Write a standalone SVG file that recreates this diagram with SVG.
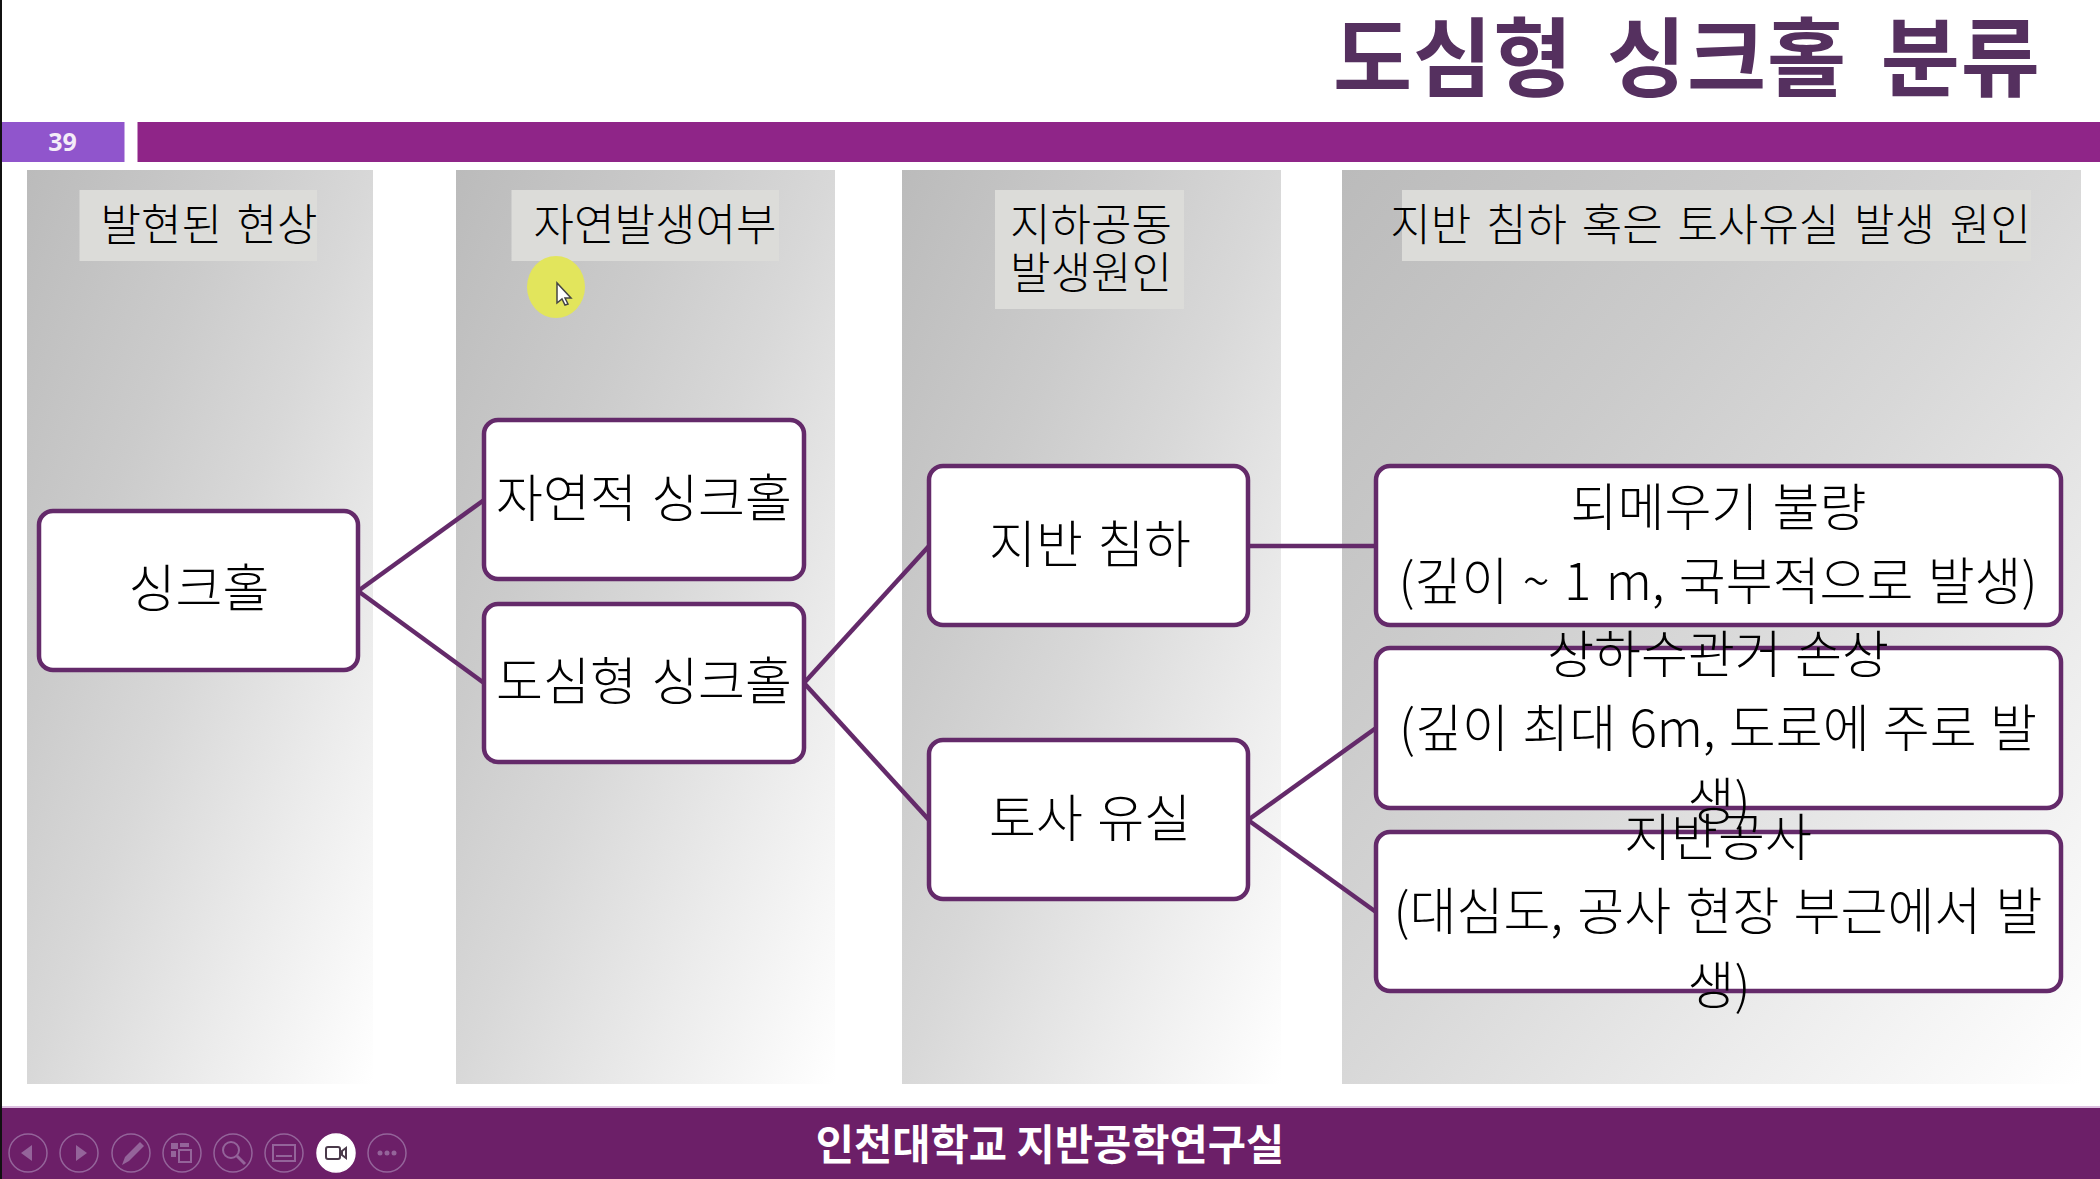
<svg xmlns="http://www.w3.org/2000/svg" width="2100" height="1179" viewBox="0 0 2100 1179">
<style>
text{font-family:"Noto Sans CJK KR","Noto Sans",sans-serif;fill:#000;text-anchor:middle;font-weight:300}
.h{font-size:44px;word-spacing:5px}
.n{font-size:51px;word-spacing:3px}
.node rect{fill:#fff;stroke:#642a6a;stroke-width:4.5}
.panel{fill:url(#pg)}
.lab{fill:#dcdcd9}
#connectors line{stroke:#642a6a;stroke-width:4.5;fill:none}
.tb circle{fill:none;stroke:#94649a;stroke-width:1.5}
.tb .ic{fill:#94649a;stroke:none}
.tb .il{fill:none;stroke:#94649a;stroke-width:2}
</style>
<defs>
<linearGradient id="pg" x1="0" y1="0" x2="1" y2="1">
<stop offset="0" stop-color="#bbb"/>
<stop offset="0.3" stop-color="#cbcbcb"/>
<stop offset="0.5" stop-color="#d8d8d8"/>
<stop offset="0.75" stop-color="#ececec"/>
<stop offset="1" stop-color="#fff"/>
</linearGradient>
</defs>
<rect width="2100" height="1179" fill="#fff"/>
<rect x="0" y="0" width="2" height="1179" fill="#111"/>
<g id="title"><text x="1687" y="90" style="font-size:86px;font-weight:700;fill:#55305f;letter-spacing:1px;word-spacing:13px">도심형 싱크홀 분류</text></g>
<g id="header-bar">
<rect x="2" y="122" width="122.500" height="40" fill="#9055cc"/>
<rect x="137.500" y="122" width="1962.500" height="40" fill="#8f2588"/>
<text x="62.500" y="151" style="font-family:'Open Sans',sans-serif;font-size:25px;font-weight:700;fill:#f4ecf8">39</text>
</g>
<g id="panels">
<rect class="panel" x="27" y="170" width="346" height="914"/>
<rect class="panel" x="456" y="170" width="379" height="914"/>
<rect class="panel" x="902" y="170" width="379" height="914"/>
<rect class="panel" x="1342" y="170" width="739" height="914"/>
<rect class="lab" x="79.500" y="190" width="237.500" height="71"/>
<rect class="lab" x="511.500" y="190" width="267.500" height="71"/>
<rect class="lab" x="995" y="190" width="189" height="119"/>
<rect class="lab" x="1402" y="190" width="629" height="71"/>
<text class="h" x="209" y="241">발현된 현상</text>
<text class="h" x="655" y="241">자연발생여부</text>
<text class="h" x="1091" y="241">지하공동</text>
<text class="h" x="1091" y="289">발생원인</text>
<text class="h" x="1710.500" y="241">지반 침하 혹은 토사유실 발생 원인</text>
</g>
<g id="connectors">
<line x1="358" y1="591" x2="484" y2="500"/>
<line x1="358" y1="591" x2="484" y2="683"/>
<line x1="804" y1="683" x2="929" y2="546"/>
<line x1="804" y1="683" x2="929" y2="820"/>
<line x1="1248" y1="546" x2="1376" y2="546"/>
<line x1="1248" y1="820" x2="1376" y2="728"/>
<line x1="1248" y1="820" x2="1376" y2="912"/>
</g>
<g id="node-sinkhole" class="node"><rect x="39" y="511" width="319" height="159" rx="14"/><text class="n" x="199" y="607">싱크홀</text></g>
<g id="node-natural" class="node"><rect x="484" y="420" width="320" height="159" rx="14"/><text class="n" x="644" y="517">자연적 싱크홀</text></g>
<g id="node-urban" class="node"><rect x="484" y="604" width="320" height="158" rx="14"/><text class="n" x="644" y="700">도심형 싱크홀</text></g>
<g id="node-subsidence" class="node"><rect x="929" y="466" width="319" height="159" rx="14"/><text class="n" x="1090" y="563">지반 침하</text></g>
<g id="node-soil-loss" class="node"><rect x="929" y="740" width="319" height="159" rx="14"/><text class="n" x="1090" y="837">토사 유실</text></g>
<g id="node-backfill" class="node"><rect x="1376" y="466" width="685" height="159" rx="14"/>
<text class="n" x="1718.500" y="526">되메우기 불량</text>
<text class="n" x="1718" y="600">(깊이 ~ 1 m, 국부적으로 발생)</text></g>
<g id="node-sewer" class="node"><rect x="1376" y="648" width="685" height="160" rx="14"/>
<text class="n" x="1718" y="673" style="word-spacing:2px">상하수관거 손상</text>
<text class="n" x="1718" y="747" style="word-spacing:2px">(깊이 최대 6m, 도로에 주로 발</text>
<text class="n" x="1719" y="820">생)</text></g>
<g id="node-construction" class="node"><rect x="1376" y="832" width="685" height="159" rx="14"/>
<text class="n" x="1718" y="856">지반공사</text>
<text class="n" x="1718" y="930">(대심도, 공사 현장 부근에서 발</text>
<text class="n" x="1719" y="1004">생)</text></g>
<g id="pointer">
<ellipse cx="556" cy="287" rx="29" ry="31" fill="#e2e55c"/>
<path d="M557 283v20l5-4 3 6 3-1-3-6h6z" fill="#fff" stroke="#444" stroke-width="1.500"/>
</g>
<g id="footer">
<rect x="2" y="1106" width="2098" height="2" fill="#dcbfe0"/>
<rect x="2" y="1108" width="2098" height="71" fill="#6c1f68"/>
<text x="1050" y="1160" style="font-size:41.600px;font-weight:700;fill:#fff">인천대학교 지반공학연구실</text>
<g class="tb">
<circle cx="28" cy="1153" r="19"/><path class="ic" d="M32 1145v16l-11-8z"/>
<circle cx="79" cy="1153" r="19"/><path class="ic" d="M76 1145v16l11-8z"/>
<circle cx="131" cy="1153" r="19"/><path class="ic" d="M122 1165l3-8 15-15 4 4-15 15z"/>
<circle cx="182" cy="1153" r="19"/><path class="ic" d="M171 1143h7v6h-7zM180 1143h9v4h-9zM171 1151h5v6h-5z"/><rect class="il" x="179" y="1150" width="12" height="12"/>
<circle cx="233" cy="1153" r="19"/><circle class="il" cx="231" cy="1150" r="8"/><path class="il" d="M237 1156l8 8" style="stroke-width:3"/>
<circle cx="284" cy="1153" r="19"/><rect class="il" x="273" y="1145" width="22" height="16"/><path class="il" d="M276 1156h16"/>
<circle cx="336" cy="1153" r="19" style="fill:#fff;stroke:#fff"/><rect x="326" y="1147" width="14" height="12" rx="2" fill="none" stroke="#4a3a4a" stroke-width="2"/><path d="M342 1151l4-3v10l-4-3z" fill="none" stroke="#4a3a4a" stroke-width="2"/>
<circle cx="387" cy="1153" r="19"/><circle class="ic" cx="380" cy="1153" r="2.500"/><circle class="ic" cx="387" cy="1153" r="2.500"/><circle class="ic" cx="394" cy="1153" r="2.500"/>
</g>
</g>
</svg>
